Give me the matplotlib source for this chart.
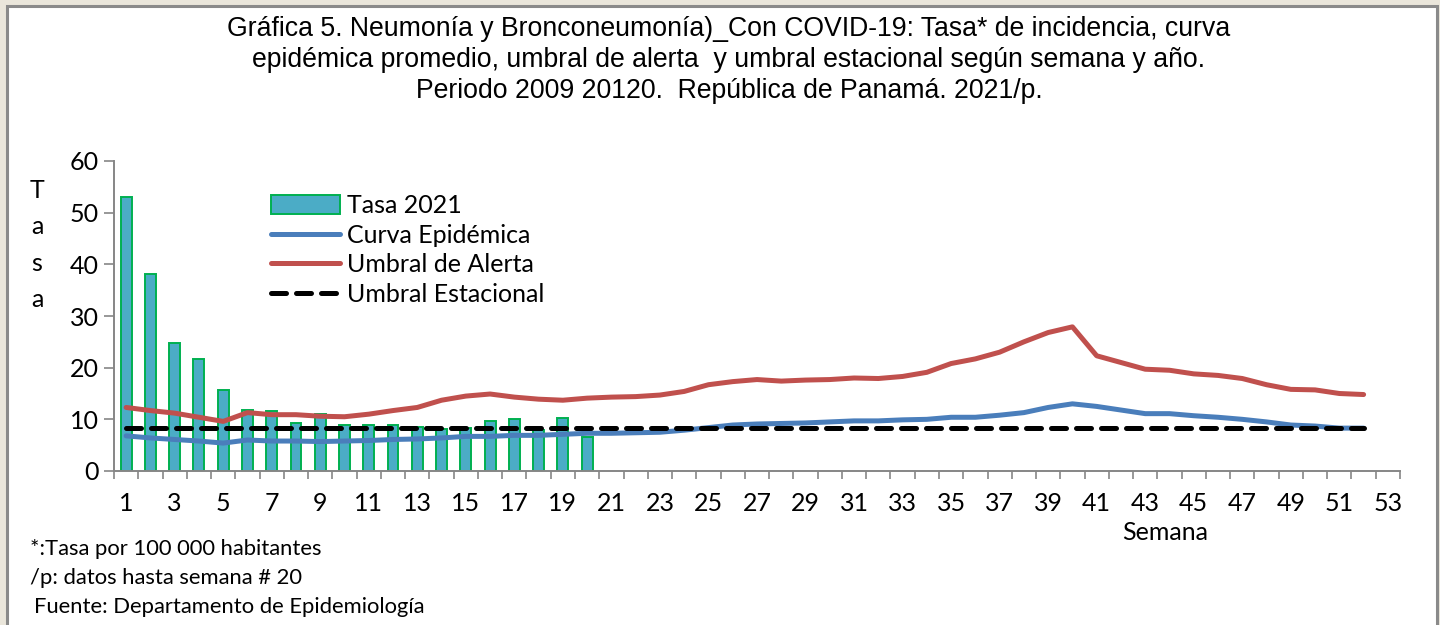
import numpy as np
from matplotlib import pyplot as plt
from matplotlib.patches import Rectangle
from matplotlib.lines import Line2D
from matplotlib.patches import Patch

# data
semanas = list(range(1, 53))
tasa_2021 = [53.1, 38.2, 24.8, 21.7, 15.6, 11.9, 11.6, 9.3, 11.1, 9.0,
             9.0, 8.9, 8.5, 8.2, 8.3, 9.7, 10.0, 8.0, 10.2, 6.5]
curva = [6.8, 6.4, 6.1, 5.8, 5.4, 6.0, 5.8, 5.8, 5.7, 5.8,
         5.9, 6.1, 6.2, 6.4, 6.7, 6.7, 6.9, 6.9, 7.1, 7.3,
         7.3, 7.4, 7.5, 7.9, 8.4, 8.9, 9.1, 9.2, 9.3, 9.5,
         9.7, 9.7, 9.9, 10.0, 10.4, 10.4, 10.8, 11.3, 12.3, 13.0,
         12.5, 11.8, 11.1, 11.1, 10.7, 10.4, 10.0, 9.5, 8.9, 8.7,
         8.3, 8.3]
alerta = [12.3, 11.7, 11.2, 10.4, 9.6, 11.3, 10.9, 10.9, 10.6, 10.5,
          11.0, 11.7, 12.3, 13.7, 14.5, 14.9, 14.3, 13.9, 13.7, 14.1,
          14.3, 14.4, 14.7, 15.4, 16.7, 17.3, 17.7, 17.4, 17.6, 17.7,
          18.0, 17.9, 18.3, 19.1, 20.8, 21.7, 23.0, 25.0, 26.8, 27.9,
          22.3, 21.0, 19.7, 19.5, 18.8, 18.5, 17.9, 16.7, 15.8, 15.7,
          15.0, 14.8]
estacional = [8.3] * 52  # flat line in the chart
xlabels = [str(k) for k in range(1, 54, 2)]

W, H = 1440, 625
fig = plt.figure(figsize=(W / 100, H / 100), dpi=100)
fig.patch.set_facecolor('#EAE6DB')
fig.patches.append(Rectangle((7 / W, -0.02), 1430 / W, (H - 5.5) / H + 0.02,
                             transform=fig.transFigure, facecolor='white',
                             edgecolor='#8A8A8A', linewidth=2.2, zorder=-5))

ax = fig.add_axes([114 / W, 1 - 471 / H, (1400 - 114) / W, (471 - 161) / H])
ax.set_facecolor('none')
ax.set_zorder(2)

font = 'Lato'
fs = 18
lw = 3.6
dash = (0, (3.0, 2.0))
ax.bar(semanas[:len(tasa_2021)], tasa_2021, width=0.45, color='#4BACC6',
       edgecolor='#00B050', linewidth=1.4, zorder=2)
ax.plot(semanas, curva, color='#4A7EBB', lw=lw, solid_capstyle='round', zorder=3)
ax.plot(semanas, alerta, color='#C0504D', lw=lw, solid_capstyle='round', zorder=3)
ax.plot(semanas, estacional, color='black', lw=lw, linestyle=dash,
        dash_capstyle='round', zorder=4)

ax.set_xlim(0.5, 53.5)
ax.set_ylim(0, 60)
ax.set_yticks(range(0, 61, 10))
ax.set_xticks(range(1, 54, 2))
ax.set_xticklabels(xlabels)
ax.set_xticks(np.arange(0.5, 54, 1), minor=True)
ax.tick_params(axis='x', which='major', length=0, pad=15, labelsize=fs)
ax.tick_params(axis='x', which='minor', length=6, width=1.2, color='#868686')
ax.tick_params(axis='y', length=7, width=1.2, color='#868686', labelsize=fs, pad=4)
for lab in ax.get_xticklabels() + ax.get_yticklabels():
    lab.set_fontfamily(font)
for s in ['top', 'right']:
    ax.spines[s].set_visible(False)
for s in ['left', 'bottom']:
    ax.spines[s].set_color('#868686')
    ax.spines[s].set_linewidth(1.4)

handles = [Patch(facecolor='#4BACC6', edgecolor='#00B050', linewidth=1.4),
           Line2D([], [], color='#4A7EBB', lw=lw, solid_capstyle='round'),
           Line2D([], [], color='#C0504D', lw=lw, solid_capstyle='round'),
           Line2D([], [], color='black', lw=lw, linestyle=dash,
                  dash_capstyle='round')]
ax.legend(handles, ['Tasa 2021', 'Curva Epidémica', 'Umbral de Alerta', 'Umbral Estacional'],
          loc='upper left', bbox_to_anchor=((261 - 114) / (1400 - 114), (471 - 184) / (471 - 161)),
          frameon=False, prop={'family': font, 'size': fs}, handlelength=2.75,
          handleheight=0.8, labelspacing=0.27, handletextpad=0.28, borderaxespad=0)

fig.text(37 / W, 1 - 245 / H, 'T\na\ns\na', ha='center', va='center',
         fontsize=fs, family=font, linespacing=1.7)
fig.text(1165 / W, 1 - 532 / H, 'Semana', ha='center', va='center', fontsize=fs, family=font)

fig.text(729 / W, 1 - 60 / H,
         'Gráfica 5. Neumonía y Bronconeumonía)_Con COVID-19: Tasa* de incidencia, curva\n'
         'epidémica promedio, umbral de alerta  y umbral estacional según semana y año.\n'
         'Periodo 2009 20120.  República de Panamá. 2021/p.',
         ha='center', va='center', fontsize=19.2, family='Liberation Sans', linespacing=1.25)

fig.text(30 / W, 1 - 549 / H, '*:Tasa por 100 000 habitantes', va='center', fontsize=15.8, family=font)
fig.text(30 / W, 1 - 578 / H, '/p: datos hasta semana # 20', va='center', fontsize=15.8, family=font)
fig.text(34 / W, 1 - 607 / H, 'Fuente: Departamento de Epidemiología', va='center', fontsize=15.8, family=font)

fig.savefig('out.png', dpi=100, facecolor=fig.get_facecolor())
